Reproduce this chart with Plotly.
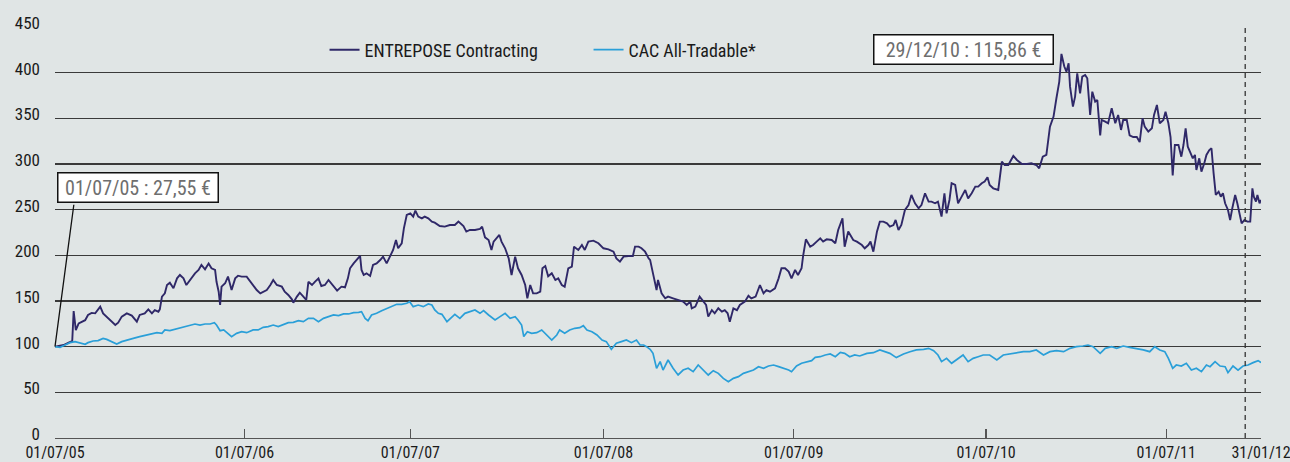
import plotly.graph_objects as go

# x = trading-session index since 01/07/05 (base 100 on 01/07/05)
ent_sessions = [
    0, 12, 19, 22, 24, 26, 29, 33, 37, 42, 46, 51, 56, 63, 67, 72, 79, 84, 88, 93,
    100, 107, 114, 118, 125, 130, 135, 139, 144, 146, 149, 153, 156, 160, 165, 170, 174, 179, 183, 188,
    195, 200, 204, 209, 214, 218, 223, 225, 228, 230, 232, 237, 241, 246, 251, 255, 260, 267, 272,
    281, 286, 290, 295, 300, 304, 309, 316, 320, 325, 330, 332, 337, 341, 346, 350, 353, 358, 362, 367,
    371, 376, 381, 385, 390, 393, 399, 404, 408, 411, 416, 420, 425, 427, 430, 434, 439, 443, 448, 453,
    457, 462, 467, 471, 475, 478, 483, 486, 490, 495, 499, 502, 506, 511, 515, 520, 525, 529, 536, 543, 550,
    557, 562, 569, 573, 578, 585, 592, 595, 599, 604, 608, 611, 615, 619, 622, 627, 632, 636, 641, 645,
    650, 655, 658, 662, 666, 671, 676, 679, 683, 687, 692, 697, 701, 706, 710, 715, 720, 723, 729, 734,
    738, 743, 750, 757, 764, 771, 778, 782, 787, 792, 799, 805, 808, 813, 817, 822, 827,
    829, 833, 838, 840, 845, 850, 854, 861, 868, 875, 880, 885, 887, 892, 898, 902, 907, 910, 915, 919,
    924, 929, 933, 937, 940, 945, 950, 954, 961, 966, 970, 976, 982, 987, 991, 996, 1003, 1008, 1012, 1017,
    1022, 1026, 1031, 1035, 1040, 1042, 1046, 1052, 1056, 1061, 1066, 1070, 1075, 1082, 1087, 1091, 1097, 1100, 1105,
    1112, 1117, 1124, 1128, 1133, 1136, 1140, 1145, 1149, 1154, 1159, 1163, 1168, 1171, 1175, 1179, 1184, 1189, 1193, 1198,
    1203, 1207, 1212, 1217, 1221, 1226, 1230, 1235, 1239, 1242, 1246, 1249, 1254, 1258, 1263, 1268, 1272, 1277, 1282, 1286,
    1291, 1295, 1299, 1302, 1307, 1314, 1319, 1323, 1328, 1335, 1340, 1347, 1354, 1360, 1367, 1371, 1376, 1381,
    1386, 1391, 1395, 1399, 1402, 1406, 1409, 1412, 1414, 1418, 1421, 1424, 1428, 1431, 1435, 1438, 1442, 1445, 1449, 1452,
    1456, 1458, 1463, 1467, 1472, 1477, 1481, 1485, 1488, 1493, 1497, 1502, 1507, 1511, 1515, 1518, 1523, 1528, 1531, 1535,
    1539, 1544, 1547, 1551, 1554, 1557, 1560, 1565, 1569, 1572, 1575, 1578, 1581, 1585, 1588, 1590, 1594, 1597, 1601, 1604,
    1608, 1611, 1614, 1617, 1621, 1624, 1627, 1630, 1634, 1637, 1640, 1644, 1647, 1650, 1653, 1657, 1661, 1665, 1668, 1670,
    1673, 1675, 1678, 1680,
]
ent_values = [
    100, 101.8, 104.4, 105.5, 106, 139, 118, 125.5, 127, 129, 134.7, 137, 136.5, 143.8, 136.5, 132.9, 127.4, 123.7, 126.3, 132.9,
    136.5, 134, 127.4, 134.7, 136.5, 140.9, 136.5, 140, 138.3, 140.9, 154.8, 158.4, 167.5, 170, 163.9, 174.8, 178.5, 174.8, 167.5, 173,
    180.3, 184, 189.4, 184.7, 191, 185.8, 184, 171, 160.2, 145.6, 165.7, 169.4, 176.7, 162, 174.8, 177.7, 176.7, 176.7, 171,
    162, 158.4, 160.2, 162, 167.5, 173, 167.5, 165.7, 160.2, 156.6, 151.8, 148.2, 154.8, 159.1, 154.8, 151.1, 171, 167.5, 171, 174.8,
    166.4, 167.5, 173, 169.4, 163.9, 161.3, 165.7, 165, 174.8, 185.8, 191.2, 194.9, 199.3, 184, 178.5, 180.3, 177.4, 189.4, 191.2, 194.9,
    198.6, 191.2, 200.4, 205.9, 216.8, 207.7, 213.2, 229.6, 244.2, 246, 242.4, 248.9, 242.4, 240.5, 242.4, 240.5, 236.9, 235.8, 232.1, 231.4, 233.2,
    233.2, 236.9, 232.1, 226, 227.8, 227.8, 228.9, 231.4, 219.7, 216.8, 205.9, 215, 218.6, 222.3, 215, 207.7, 196.7, 178.5, 198.6, 185.8,
    178.5, 167.5, 152.9, 167.5, 158.4, 158.4, 160.2, 185.8, 188.3, 177, 180.3, 173, 174.8, 167.5, 165.7, 185.8, 187.6, 209.5, 205.9, 211.3,
    205.9, 215, 216.1, 213.2, 207.7, 206.6, 204, 196.7, 193.1, 198.6, 199.3, 199.3, 209.5, 209.5, 207.7, 204, 196.7,
    195, 180.3, 162, 173, 158.4, 152.9, 154.8, 152.9, 151.1, 149.3, 145.6, 149.3, 142, 143.8, 154.8, 151.1, 145.6, 132.9, 140, 136.5,
    142, 138.3, 140, 136.5, 127.4, 142, 140, 145.6, 149.3, 155.8, 152.9, 154.8, 167.5, 158.4, 162, 160.2, 163.9, 174.8, 185.8, 185.8,
    182.1, 174.8, 184, 178.5, 185.8, 198.6, 217.5, 209.5, 211.3, 215, 218.6, 215, 217.5, 216.8, 213.2, 227.8, 240.5, 209.5, 226,
    216.8, 215, 211.3, 207.7, 211.3, 215, 204, 225.9, 236.9, 236.9, 235, 231.4, 233.2, 238.7, 227.8, 233.2, 249.7, 255.1, 266.1, 257,
    251.5, 255.1, 267.9, 258.8, 258.8, 257, 258.8, 242.4, 267.9, 246, 260.6, 278.9, 277, 257, 264.3, 271.6, 262.4, 267.9, 275.2, 275.2,
    278.9, 280.7, 285.4, 277, 273.4, 271.6, 302.6, 298.9, 298.9, 308.8, 304.4, 300, 300, 300.8, 298.9, 295.3, 308, 309.9,
    340.9, 351.9, 372, 390.2, 420.5, 406.7, 401.1, 410.3, 384.7, 362.8, 373.8, 399.3, 377.4, 395.7, 397.5, 393.8, 353.7, 379.2, 368.3, 370.1,
    331.3, 348.2, 346.4, 344.6, 361, 344.6, 353.7, 337.3, 348.2, 348.2, 331.3, 329.5, 329.5, 324, 350, 340.9, 335.5, 339.1, 353.7, 364.6,
    344.6, 348.2, 357.3, 344.6, 329.5, 287.5, 320.8, 320.8, 308, 320.8, 339.1, 319, 313.5, 306.2, 309.9, 293.5, 306.2, 291.6, 300.8, 309.9,
    315.3, 317.2, 289.8, 266.1, 269.7, 264.3, 267.9, 257, 249.7, 238.7, 251.5, 266.1, 257, 246, 235, 238.7, 236.9, 236.9, 273.4, 264.3,
    258.8, 266.1, 257, 260.6,
]

cac_sessions = [
    0, 7, 14, 21, 28, 35, 42, 46, 53, 60, 67, 72, 79, 86, 93, 100, 109, 118, 128, 135,
    142, 149, 153, 160, 167, 174, 181, 188, 195, 202, 209, 216, 222, 225, 230, 235, 239, 246, 253, 260, 267,
    276, 283, 290, 297, 304, 311, 318, 325, 332, 339, 346, 353, 360, 367, 374, 381, 388, 395, 402, 409,
    416, 423, 427, 432, 436, 441, 448, 455, 462, 469, 476, 483, 490, 494, 499, 506, 513, 520, 525, 529, 534, 539, 546,
    557, 564, 571, 578, 585, 592, 597, 604, 613, 620, 627, 634, 641, 645, 650, 653, 658, 664, 671, 678,
    685, 692, 699, 703, 710, 717, 724, 731, 736, 741, 748, 755, 762, 768, 775, 782, 789, 796, 803, 810, 815, 820, 824,
    829, 833, 838, 843, 847, 854, 861, 868, 875, 882, 889, 896, 903, 910, 917, 924, 931, 938, 945, 952,
    959, 966, 973, 980, 987, 994, 1001, 1008, 1015, 1022, 1026, 1033, 1040, 1047, 1054, 1059, 1066, 1073, 1080, 1087, 1094, 1100,
    1107, 1114, 1121, 1131, 1140, 1149, 1156, 1163, 1172, 1182, 1191, 1200, 1210, 1217, 1224, 1230, 1235, 1242, 1249, 1256,
    1265, 1272, 1279, 1286, 1293, 1302, 1312, 1321, 1330, 1340, 1349, 1358, 1367, 1377,
    1386, 1395, 1405, 1414, 1423, 1432, 1439, 1446, 1456, 1463, 1472, 1479, 1488, 1497, 1507, 1516, 1525, 1532, 1539, 1546,
    1551, 1557, 1562, 1569, 1576, 1583, 1590, 1597, 1604, 1609, 1616, 1623, 1630, 1634, 1641, 1648, 1655, 1662, 1669, 1676, 1680,
]
cac_values = [
    100, 99.3, 101.8, 104.4, 105.5, 104.4, 102.6, 104.4, 106.2, 106.6, 109.1, 108, 105.5, 102.9, 105.5, 107.3, 109.1, 111, 112.8, 113.5,
    115.3, 114.6, 118.3, 117.5, 119, 120.1, 121.9, 123.7, 124.8, 123.7, 124.8, 124.8, 126.3, 123.7, 117.5, 118.3, 115.3, 111, 114.6, 116.4, 115.3,
    118.3, 118.3, 121.2, 121.9, 123.7, 121.9, 123.7, 126.3, 126.6, 128.5, 127.4, 131, 131, 127.4, 131, 132.9, 134.7, 134, 135.8, 135.8,
    137.2, 137.6, 138.3, 131, 128.5, 134.7, 136.5, 139.4, 142, 143.8, 146.4, 146.4, 147.5, 149.3, 143.8, 145.6, 143.8, 146.7, 145.6, 140.2, 136.5, 135.4, 127.4,
    135.4, 131, 136.5, 138.3, 140.2, 136.5, 139.4, 134.7, 129.2, 132.9, 136.5, 131, 132.9, 129.2, 123.7, 111, 116.4, 114.6, 115.3, 118.3,
    112.8, 107.3, 112.8, 118.3, 114.6, 118.3, 120.1, 120.8, 123, 118.3, 116.4, 112.8, 107.3, 105.5, 97.1, 103.7, 105.5, 107.3, 104.4, 107.3, 101.8, 101.8, 100,
    97.1, 92.7, 76.3, 83.6, 74.4, 85.4, 76.3, 69, 74.4, 76.3, 72.6, 79.9, 74.4, 69, 73.7, 70.8, 65.3, 61.7, 65.3, 67.2,
    70.8, 72.6, 74.4, 78.1, 76.3, 78.8, 79.9, 78.1, 76.3, 74.4, 72.6, 78.8, 81.8, 83.6, 84.7, 88.3, 89, 90.9, 92, 89, 93.8, 92.7,
    89, 90.9, 89.8, 92.7, 93.4, 96.4, 94.5, 92.7, 88, 92, 94.5, 96.4, 97.1, 98.2, 95.6, 90.9, 83.6, 87.2, 81.8, 86.1,
    90.9, 83.6, 87.2, 89, 90.9, 90.9, 85.4, 90.9, 92, 92.7, 94.5, 94.5, 96.4, 90.9,
    94.5, 95.6, 94.5, 98.2, 100, 100.7, 101.8, 100, 92.7, 98.2, 100, 98.2, 100.7, 99.3, 98.2, 96.4, 94.5, 100, 96.4, 94.5,
    87.2, 76.3, 79.9, 78.8, 81.8, 74.4, 76.3, 72.6, 79.9, 78.1, 83.6, 78.8, 78.1, 71.5, 78.8, 74.4, 78.8, 79.9, 82.5, 84.7, 82.5,
]

tick_sessions = [0, 264, 495, 764, 1029, 1297, 1548, 1680]
tick_labels = ["01/07/05", "01/07/06", "01/07/07", "01/07/08", "01/07/09", "01/07/10", "01/07/11", "31/01/12"]

year_end_session = 1658
start_label = "01/07/05 : 27,55 €"
peak_label = "29/12/10 : 115,86 €"

FONT = "Liberation Sans Narrow, Arial Narrow, Roboto Condensed, sans-serif"
BG = "#e0e5e5"
ENT_COLOR = "#2f2868"
CAC_COLOR = "#2a9fd8"
TXT = 17

fig = go.Figure()
fig.add_trace(go.Scatter(x=ent_sessions, y=ent_values, mode="lines", name="ENTREPOSE Contracting",
                         line=dict(color=ENT_COLOR, width=1.9)))
fig.add_trace(go.Scatter(x=cac_sessions, y=cac_values, mode="lines", name="CAC All-Tradable*",
                         line=dict(color=CAC_COLOR, width=1.7)))

fig.add_shape(type="line", xref="x", yref="paper", x0=year_end_session, x1=year_end_session, y0=0, y1=1,
              line=dict(color="#333333", width=1.3, dash="5px,4px"))

# connector from starting point to the label box
fig.add_annotation(x=0, y=100, xref="x", yref="y", ax=26.5, ay=257, axref="x", ayref="y",
                   text="", showarrow=True, arrowhead=0, arrowwidth=1.3, arrowcolor="#111111")
fig.add_annotation(x=116, y=274, xref="x", yref="y", xanchor="center", yanchor="middle",
                   text="\u00a0" + start_label + "\u00a0", showarrow=False,
                   font=dict(family=FONT, size=20, color="#6e6e6e"),
                   bgcolor="white", bordercolor="#111111", borderwidth=1.5, borderpad=2)
fig.add_annotation(x=1265, y=425, xref="x", yref="y", xanchor="center", yanchor="middle",
                   text="\u00a0\u00a0" + peak_label + "\u00a0\u00a0", showarrow=False,
                   font=dict(family=FONT, size=20, color="#6e6e6e"),
                   bgcolor="white", bordercolor="#111111", borderwidth=1.5, borderpad=2)

fig.update_layout(
    width=1290, height=462,
    margin=dict(l=55, r=29, t=27, b=24, pad=0),
    paper_bgcolor=BG, plot_bgcolor=BG,
    font=dict(family=FONT, size=TXT, color="#1a1a1a"),
    showlegend=True,
    legend=dict(orientation="h", x=0.2235, y=0.944, xanchor="left", yanchor="middle",
                bgcolor="rgba(0,0,0,0)", font=dict(family=FONT, size=18, color="#1a1a1a"),
                entrywidth=219, entrywidthmode="pixels", traceorder="normal"),
    hovermode=False,
)
fig.update_xaxes(range=[0, 1680], tickmode="array", tickvals=tick_sessions, ticktext=tick_labels,
                 ticks="inside", ticklen=9, tickwidth=1.2, tickcolor="#555555",
                 showgrid=False, zeroline=False, showline=True, linecolor="#555555", linewidth=1,
                 automargin=False, ticklabeloverflow="allow",
                 tickfont=dict(family=FONT, size=16, color="#1a1a1a"))
fig.update_yaxes(range=[0, 450], tickmode="linear", tick0=0, dtick=50,
                 showgrid=True, gridcolor="#3a3a3a", gridwidth=1.2, zeroline=False, showline=False,
                 ticks="", ticklabelshift=-4, ticklabelstandoff=14, automargin=False,
                 tickfont=dict(family=FONT, size=TXT, color="#1a1a1a"))

fig.write_html(
    "out.html",
    config={"displayModeBar": False, "staticPlot": True},
    post_script="document.body.style.margin='0';document.body.style.background='" + BG + "';",
)
